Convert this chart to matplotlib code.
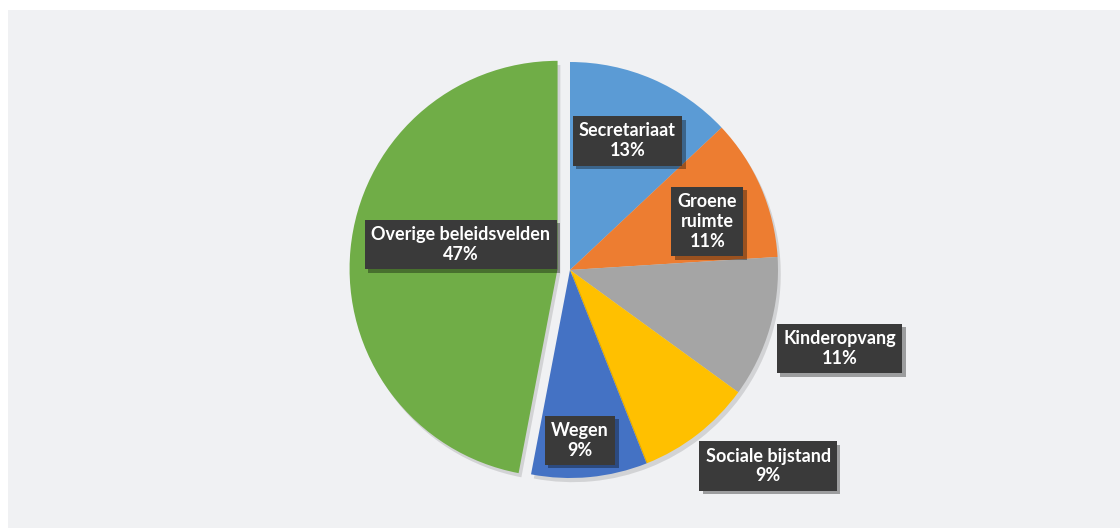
import numpy as np
import matplotlib
matplotlib.use('Agg')
import matplotlib.pyplot as plt
import matplotlib.patheffects as pe

categories = ['Secretariaat', 'Groene\nruimte', 'Kinderopvang',
              'Sociale bijstand', 'Wegen', 'Overige beleidsvelden']
shares = [13, 11, 11, 9, 9, 47]
colors = ['#5B9BD5', '#ED7D31', '#A5A5A5', '#FFC000', '#4472C4', '#70AD47']
explode = [0, 0, 0, 0, 0, 0.06]

# label placement: (radius factor, angle shift in degrees, ccw positive)
label_layout = [(0.68, -0.6), (0.70, -4), (1.35, 0), (1.34, 7.5), (0.82, -2), (0.48, -8.6)]

plt.rcParams['font.family'] = ['Lato', 'DejaVu Sans']

fig = plt.figure(figsize=(11.2, 5.28), dpi=100)
fig.patch.set_facecolor('white')
bg = fig.add_axes([8 / 1120, 0, 1 - 8 / 1120, 1 - 10 / 528])
bg.set_facecolor('#F0F1F3')
bg.set_xticks([])
bg.set_yticks([])
for s in bg.spines.values():
    s.set_visible(False)

# pie axes: centre ~ (570, 270) px, radius ~ 208 px
R = 208
cx, cy = 570, 270
half = 1.6
ax = fig.add_axes([(cx - half * R) / 1120, (528 - cy - half * R) / 528,
                   2 * half * R / 1120, 2 * half * R / 528])

wedges, _ = ax.pie(shares, colors=colors, explode=explode, startangle=90,
                   counterclock=False, radius=1.0,
                   wedgeprops=dict(linewidth=0))
ax.set_xlim(-half, half)
ax.set_ylim(-half, half)
ax.set_aspect('equal')
ax.axis('off')
for w in wedges:
    w.set_path_effects([pe.SimplePatchShadow(offset=(2, -3), shadow_rgbFace='#000000', alpha=0.12),
                        pe.Normal()])

total = sum(shares)
start = 90.0
for w, name, val, (rf, shift), ex in zip(wedges, categories, shares, label_layout, explode):
    mid = start - 360.0 * val / total / 2 + shift
    start -= 360.0 * val / total
    ang = np.deg2rad(mid)
    ox = ex * np.cos(np.deg2rad((w.theta1 + w.theta2) / 2))
    oy = ex * np.sin(np.deg2rad((w.theta1 + w.theta2) / 2))
    x = ox + rf * np.cos(ang)
    y = oy + rf * np.sin(ang)
    t = ax.text(x, y, f'{name}\n{val}%', ha='center', va='center',
                color='white', fontsize=13, fontweight='bold',
                linespacing=1.2,
                bbox=dict(boxstyle='square,pad=0.35', fc='#3A3A3A', ec='none'))
    t.get_bbox_patch().set_path_effects([
        pe.SimplePatchShadow(offset=(2.5, -2.5), shadow_rgbFace='#000000', alpha=0.35),
        pe.Normal()])

fig.savefig('out.png', dpi=100, facecolor=fig.get_facecolor())
